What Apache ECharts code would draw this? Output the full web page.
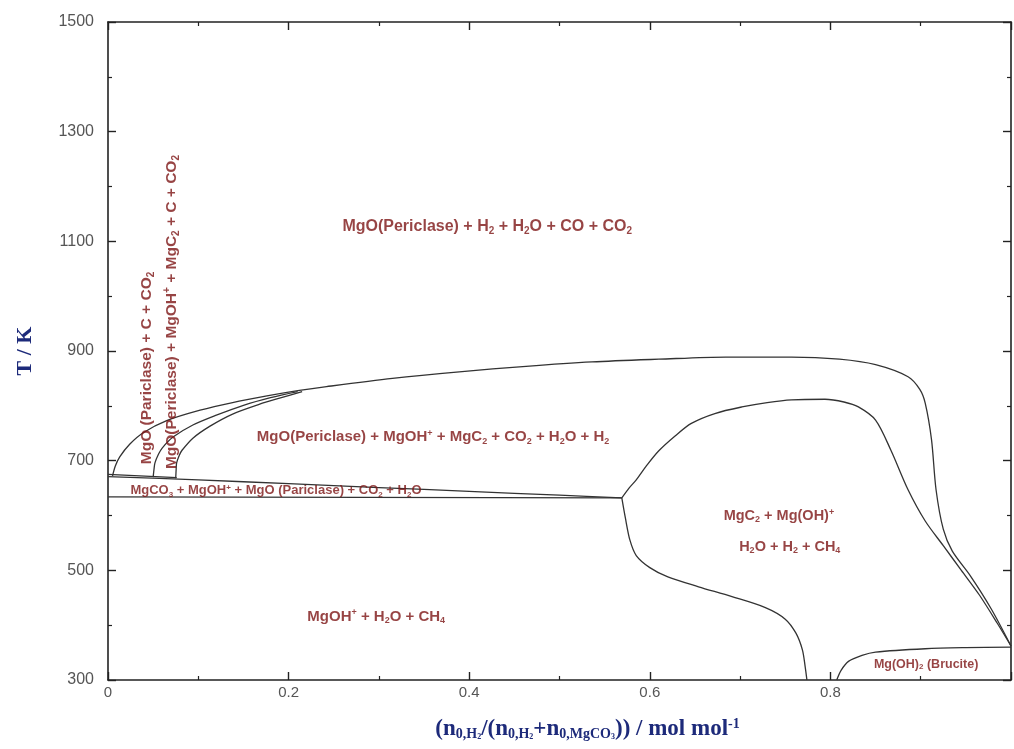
<!DOCTYPE html>
<html><head><meta charset="utf-8">
<script src="https://cdn.jsdelivr.net/npm/echarts@6/dist/echarts.min.js"></script>
<style>html,body{margin:0;padding:0;background:#fff}#c{width:1014px;height:749px}</style>
</head><body><div id="c"></div>
<script>
// ---- axis ticks ----
const xTickLabels = ['0', '0.2', '0.4', '0.6', '0.8', ''];
const yTickLabels = ['300', '500', '700', '900', '1100', '1300', '1500'];

// ---- phase boundaries: [x, T/K] ----
const outerBoundary = [[0.005,672],[0.008,690],[0.013,707],[0.024,730],[0.039,751],[0.065,773],[0.102,792],[0.138,806],[0.176,818],[0.212,828],[0.242,835],[0.315,850],[0.389,862],[0.463,872],[0.536,880],[0.610,885],[0.684,889],[0.757,889],[0.810,885],[0.850,875],[0.886,853],[0.899,830],[0.905,805],[0.912,738],[0.917,647],[0.925,575],[0.935,535],[0.955,490],[0.978,430],[1.0,362]];
const periclaseB = [[0.050,670],[0.051,685],[0.052,696],[0.056,712],[0.060,723],[0.072,743],[0.094,765],[0.120,783],[0.150,801],[0.180,815],[0.210,826]];
const periclaseC = [[0.075,668],[0.0755,685],[0.076,696],[0.079,710],[0.082,719],[0.094,741],[0.113,763],[0.138,785],[0.168,803],[0.190,814],[0.215,826]];
const footLine = [[0,675],[0.076,669]];
const bandTop = [[0,671],[0.1,665],[0.2,658],[0.3,651],[0.4,644],[0.5,637],[0.569,632]];
const bandBottom = [[0,634],[0.569,632]];
const innerDome = [[0.569,632],[0.577,650],[0.585,665],[0.596,690],[0.610,718],[0.628,745],[0.646,768],[0.672,786],[0.702,798],[0.730,806],[0.757,811],[0.794,812],[0.815,807],[0.831,798],[0.850,774],[0.867,719],[0.886,647],[0.905,590],[0.925,545],[0.945,500],[0.965,455],[0.985,403],[1.0,362]];
const lowerBoundary = [[0.569,632],[0.573,595],[0.578,555],[0.585,527],[0.600,505],[0.620,488],[0.654,470],[0.691,452],[0.728,432],[0.750,411],[0.762,385],[0.769,355],[0.772,325],[0.774,300]];
const bruciteBoundary = [[0.807,300],[0.812,318],[0.820,334],[0.835,345],[0.850,351],[0.905,357],[0.95,359],[1.0,360]];

// ---- region labels ----
const regionTexts = [
  'MgO(Periclase) + H{s|2} + H{s|2}O + CO + CO{s|2}',
  'MgO (Pariclase) + C + CO{s|2}',
  'MgO(Periclase) + MgOH{p|+} + MgC{s|2} + C + CO{s|2}',
  'MgO(Periclase) + MgOH{p|+} + MgC{s|2} + CO{s|2} + H{s|2}O + H{s|2}',
  'MgCO{s|3} + MgOH{p|+} + MgO (Pariclase) + CO{s|2} + H{s|2}O',
  'MgC{s|2} + Mg(OH){p|+}',
  'H{s|2}O + H{s|2} + CH{s|4}',
  'MgOH{p|+} + H{s|2}O + CH{s|4}',
  'Mg(OH){s|2} (Brucite)'
];
const regionAnchors = [[0.42,1126],[0.043,869],[0.071,971],[0.36,743],[0.186,645],[0.743,599],[0.755,543],[0.297,415],[0.906,329]];
const regionSizes = [16,15.5,15.5,15,13,14.5,14.5,15,12.5];
const regionRotations = [0,90,90,0,0,0,0,0,0];

const curves = [outerBoundary, periclaseB, periclaseC, footLine, bandTop, bandBottom, innerDome, lowerBoundary, bruciteBoundary];

const regionColor = '#7d1515';
const sansFont = 'Liberation Sans, Arial, sans-serif';
function richFor(fs) {
  return {
    s: { fontSize: Math.round(fs * 0.62), fontWeight: 'bold', color: regionColor, fontFamily: sansFont, padding: [Math.round(fs * 0.5), 0, 0, 0] },
    p: { fontSize: Math.round(fs * 0.62), fontWeight: 'bold', color: regionColor, fontFamily: sansFont, padding: [0, 0, Math.round(fs * 0.55), 0] }
  };
}

const axisCol = '#222';
const lineSeries = curves.map(d => ({
  type: 'line', data: d, showSymbol: false, smooth: 0.3,
  lineStyle: { color: '#333', width: 1.3 }, silent: true, z: 2
}));

const labelSeries = {
  type: 'scatter', symbolSize: 0, silent: true, z: 5,
  data: regionAnchors.map((a, i) => ({
    value: a,
    label: {
      show: true, position: 'inside', formatter: regionTexts[i],
      rotate: regionRotations[i], fontSize: regionSizes[i], fontWeight: 'bold',
      color: regionColor, fontFamily: sansFont,
      align: 'center', verticalAlign: 'middle',
      rich: richFor(regionSizes[i])
    }
  }))
};

const serifNavy = { fontFamily: 'Liberation Serif, Times New Roman, serif', fontWeight: 'bold', color: '#1d2a7a' };

function frameAxis(extra) {
  return Object.assign({
    axisLine: { show: true, onZero: false, lineStyle: { color: axisCol, width: 1.6 } },
    axisTick: { show: true, inside: true, length: 8, lineStyle: { color: axisCol, width: 1.4 } },
    minorTick: { show: true, splitNumber: 2, length: 4, lineStyle: { color: axisCol, width: 1.2 } },
    splitLine: { show: false }
  }, extra);
}

const chart = echarts.init(document.getElementById('c'), null, { renderer: 'canvas' });
chart.setOption({
  animation: false,
  backgroundColor: '#fff',
  grid: { left: 108, right: 1, top: 22, bottom: 69, show: false },
  xAxis: [frameAxis({
    type: 'value', min: 0, max: 1, interval: 0.2, position: 'bottom',
    axisLabel: { show: true, margin: 5, color: '#555', fontSize: 15, fontFamily: sansFont, formatter: (v, i) => xTickLabels[i] ?? '' },
    name: '{a|(n}{s|0,H}{t|2}{a|/(n}{s|0,H}{t|2}{a|+n}{s|0,MgCO}{t|3}{a|)) / mol mol}{p|-1}',
    nameLocation: 'middle', nameGap: 37,
    nameTextStyle: {
      padding: [0, 0, 0, 56],
      rich: {
        a: Object.assign({ fontSize: 23 }, serifNavy),
        s: Object.assign({ fontSize: 14, padding: [10, 0, 0, 0] }, serifNavy),
        t: Object.assign({ fontSize: 8, padding: [16, 0, 0, 0] }, serifNavy),
        p: Object.assign({ fontSize: 14, padding: [0, 0, 10, 0] }, serifNavy)
      }
    }
  }), frameAxis({
    type: 'value', min: 0, max: 1, interval: 0.2, position: 'top', axisLabel: { show: false }
  })],
  yAxis: [frameAxis({
    type: 'value', min: 300, max: 1500, interval: 200, position: 'left',
    axisLabel: { show: true, margin: 14, color: '#555', fontSize: 16, fontFamily: sansFont, formatter: (v, i) => yTickLabels[i] ?? '' },
    name: 'T / K', nameLocation: 'middle', nameGap: 72, nameRotate: 90,
    nameTextStyle: Object.assign({ fontSize: 22 }, serifNavy)
  }), frameAxis({
    type: 'value', min: 300, max: 1500, interval: 200, position: 'right', axisLabel: { show: false }
  })],
  series: lineSeries.concat([labelSeries])
});
</script>
</body></html>
